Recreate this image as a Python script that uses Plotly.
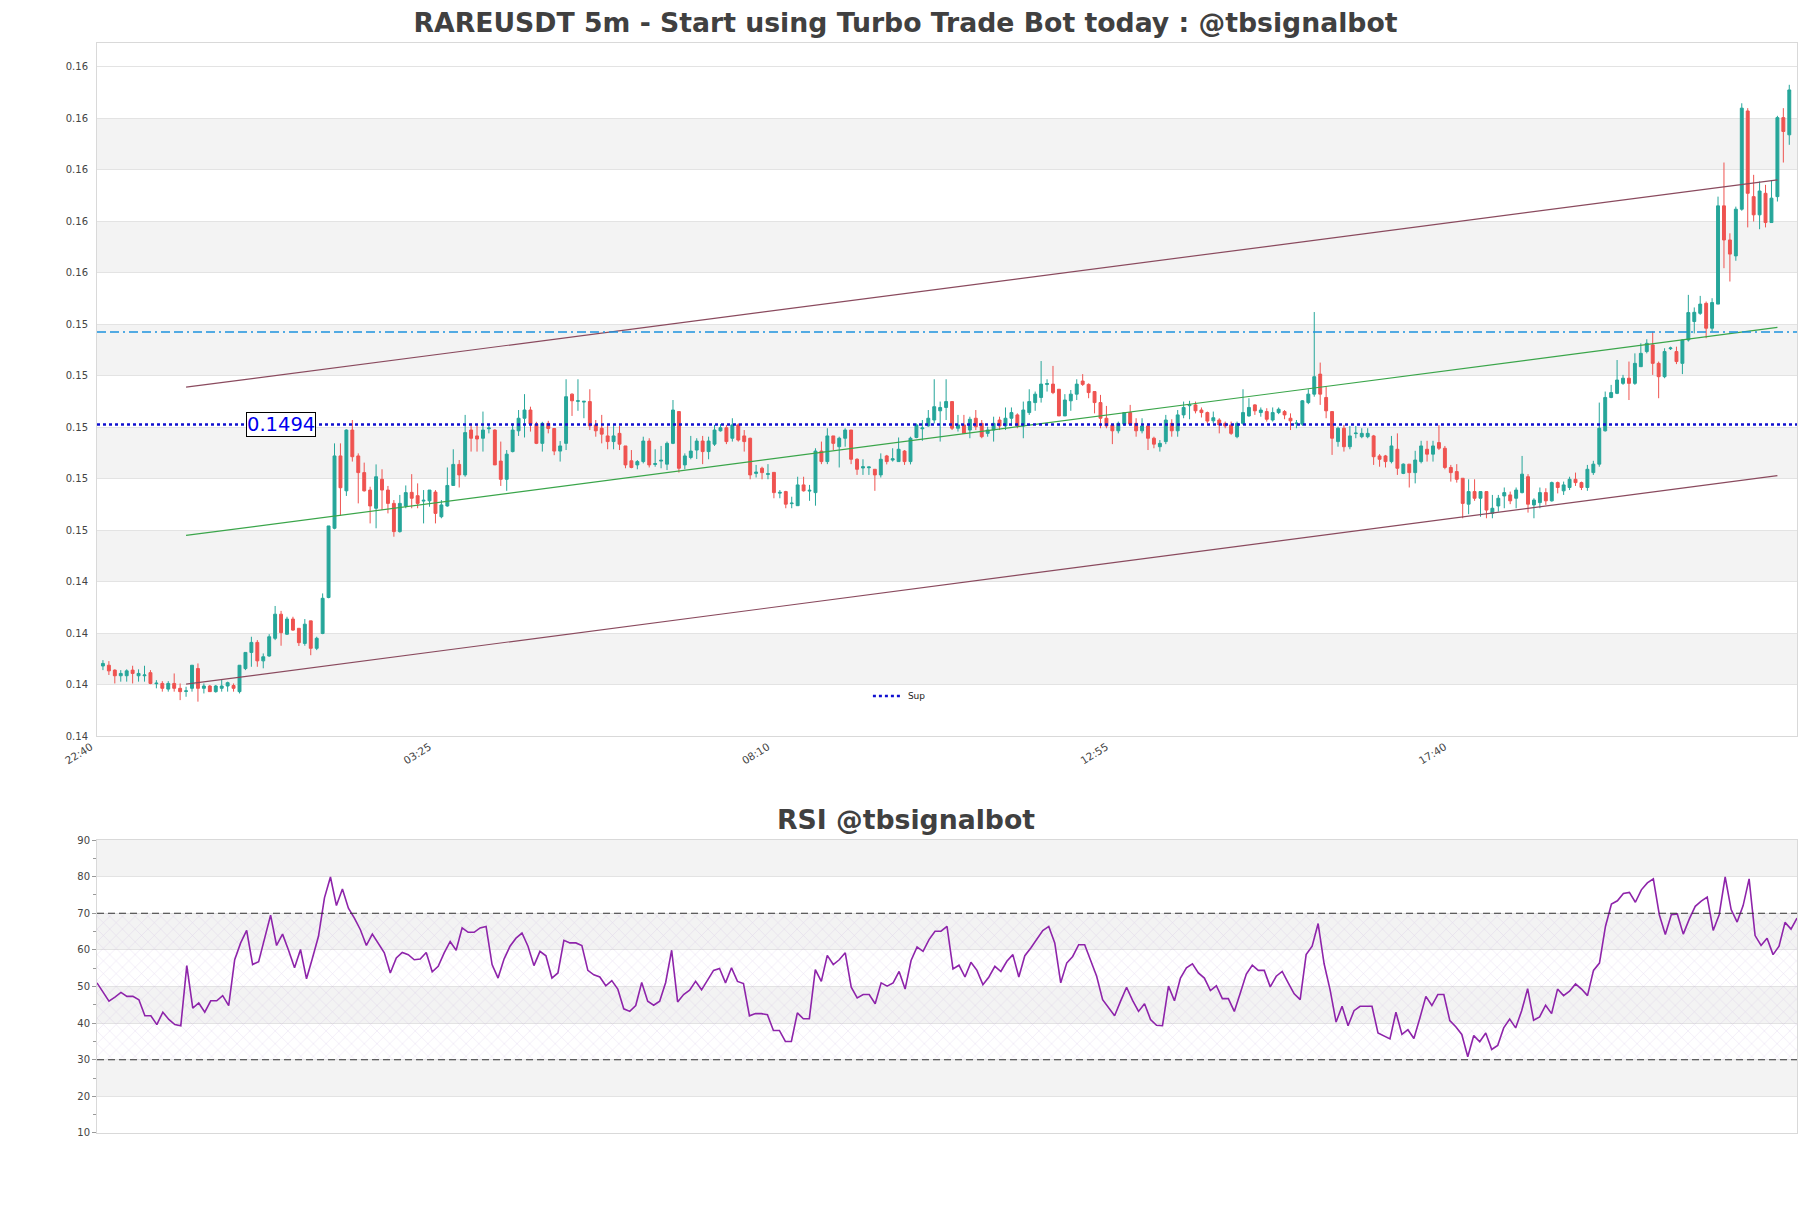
import plotly.graph_objects as go

# ---------------- data ----------------
candle_index = list(range(285))
time_tick_pos = [0, 57, 114, 171, 228]
time_tick_labels = ["22:40", "03:25", "08:10", "12:55", "17:40"]

open_ = [0.13998, 0.14001, 0.13982, 0.13960, 0.13960, 0.13982, 0.13960, 0.13960, 0.13972, 0.13929,
 0.13930, 0.13908, 0.13930, 0.13911, 0.13899, 0.13911, 0.13988, 0.13911, 0.13920, 0.13898,
 0.13911, 0.13920, 0.13922, 0.13898, 0.13988, 0.14051, 0.14090, 0.14018, 0.14037, 0.14106,
 0.14200, 0.14122, 0.14181, 0.14145, 0.14086, 0.14174, 0.14067, 0.14125, 0.14265, 0.14535,
 0.14817, 0.14681, 0.14918, 0.14817, 0.14752, 0.14684, 0.14613, 0.14726, 0.14684, 0.14632,
 0.14522, 0.14622, 0.14675, 0.14662, 0.14641, 0.14642, 0.14676, 0.14580, 0.14622, 0.14702,
 0.14784, 0.14743, 0.14918, 0.14895, 0.14886, 0.14923, 0.14918, 0.14797, 0.14726, 0.14834,
 0.14915, 0.14964, 0.14996, 0.14941, 0.14866, 0.14944, 0.14924, 0.14836, 0.14866, 0.15058,
 0.15030, 0.15027, 0.15029, 0.14938, 0.14925, 0.14895, 0.14873, 0.14905, 0.14856, 0.14798,
 0.14782, 0.14795, 0.14875, 0.14784, 0.14797, 0.14785, 0.14866, 0.14990, 0.14782, 0.14811,
 0.14840, 0.14875, 0.14834, 0.14863, 0.14915, 0.14927, 0.14886, 0.14938, 0.14895, 0.14886,
 0.14749, 0.14769, 0.14745, 0.14753, 0.14672, 0.14678, 0.14631, 0.14623, 0.14704, 0.14680,
 0.14674, 0.14836, 0.14795, 0.14895, 0.14853, 0.14886, 0.14918, 0.14804, 0.14770, 0.14771,
 0.14765, 0.14743, 0.14817, 0.14801, 0.14795, 0.14836, 0.14795, 0.14889, 0.14923, 0.14934,
 0.14957, 0.14993, 0.15006, 0.15029, 0.14925, 0.14938, 0.14918, 0.14964, 0.14944, 0.14905,
 0.14918, 0.14957, 0.14934, 0.14964, 0.14977, 0.14934, 0.14986, 0.15025, 0.15045, 0.15096,
 0.15097, 0.15077, 0.14973, 0.15032, 0.15058, 0.15109, 0.15096, 0.15068, 0.15025, 0.14964,
 0.14938, 0.14915, 0.14941, 0.14986, 0.14944, 0.14915, 0.14934, 0.14886, 0.14853, 0.14873,
 0.14944, 0.14915, 0.14977, 0.15013, 0.15016, 0.14996, 0.14986, 0.14954, 0.14957, 0.14944,
 0.14938, 0.14892, 0.14944, 0.14973, 0.15016, 0.14986, 0.14990, 0.14957, 0.14986, 0.14990,
 0.14964, 0.14943, 0.14941, 0.15025, 0.15058, 0.15136, 0.15045, 0.14990, 0.14873, 0.14925,
 0.14853, 0.14904, 0.14892, 0.14892, 0.14895, 0.14817, 0.14817, 0.14795, 0.14843, 0.14749,
 0.14785, 0.14752, 0.14795, 0.14843, 0.14824, 0.14869, 0.14847, 0.14772, 0.14756, 0.14730,
 0.14629, 0.14678, 0.14652, 0.14678, 0.14593, 0.14622, 0.14661, 0.14665, 0.14652, 0.14674,
 0.14736, 0.14626, 0.14635, 0.14674, 0.14642, 0.14713, 0.14681, 0.14694, 0.14726, 0.14713,
 0.14694, 0.14752, 0.14785, 0.14915, 0.15045, 0.15061, 0.15100, 0.15120, 0.15100, 0.15165,
 0.15224, 0.15250, 0.15178, 0.15126, 0.15235, 0.15224, 0.15178, 0.15269, 0.15341, 0.15373,
 0.15412, 0.15315, 0.15409, 0.15792, 0.15659, 0.15597, 0.15779, 0.16162, 0.15828, 0.15757,
 0.15841, 0.15727, 0.15828, 0.16136, 0.16069]

high = [0.14021, 0.14017, 0.13985, 0.13982, 0.13985, 0.13999, 0.13985, 0.13999, 0.13982, 0.13943,
 0.13939, 0.13939, 0.13969, 0.13930, 0.13917, 0.14001, 0.14008, 0.13930, 0.13924, 0.13924,
 0.13946, 0.13937, 0.13930, 0.14001, 0.14051, 0.14112, 0.14099, 0.14047, 0.14122, 0.14232,
 0.14213, 0.14190, 0.14190, 0.14145, 0.14181, 0.14174, 0.14112, 0.14281, 0.14544, 0.14866,
 0.14866, 0.14921, 0.14957, 0.14827, 0.14791, 0.14697, 0.14784, 0.14765, 0.14700, 0.14645,
 0.14665, 0.14702, 0.14746, 0.14710, 0.14684, 0.14684, 0.14684, 0.14645, 0.14772, 0.14843,
 0.14801, 0.14977, 0.14944, 0.14938, 0.14990, 0.14938, 0.14921, 0.14873, 0.14840, 0.14944,
 0.14996, 0.15058, 0.15009, 0.14950, 0.14950, 0.14954, 0.14924, 0.14875, 0.15116, 0.15061,
 0.15116, 0.15031, 0.15077, 0.14957, 0.14977, 0.14938, 0.14938, 0.14934, 0.14856, 0.14840,
 0.14801, 0.14892, 0.14886, 0.14843, 0.14856, 0.14873, 0.15035, 0.14990, 0.14827, 0.14895,
 0.14886, 0.14895, 0.14892, 0.14938, 0.14941, 0.14938, 0.14964, 0.14944, 0.14918, 0.14888,
 0.14782, 0.14775, 0.14785, 0.14753, 0.14684, 0.14681, 0.14658, 0.14736, 0.14736, 0.14704,
 0.14847, 0.14873, 0.14925, 0.14895, 0.14892, 0.14925, 0.14918, 0.14808, 0.14804, 0.14772,
 0.14765, 0.14827, 0.14821, 0.14847, 0.14889, 0.14840, 0.14892, 0.14944, 0.14957, 0.14996,
 0.15116, 0.15029, 0.15116, 0.15029, 0.14977, 0.14977, 0.14970, 0.14996, 0.14957, 0.14931,
 0.14970, 0.14970, 0.15006, 0.15006, 0.14983, 0.15029, 0.15077, 0.15068, 0.15187, 0.15116,
 0.15168, 0.15077, 0.15058, 0.15074, 0.15116, 0.15136, 0.15100, 0.15068, 0.15055, 0.15012,
 0.14938, 0.14951, 0.14986, 0.15016, 0.14964, 0.14964, 0.14944, 0.14892, 0.14879, 0.14977,
 0.14960, 0.14996, 0.15029, 0.15032, 0.15029, 0.15006, 0.14990, 0.14990, 0.14964, 0.14951,
 0.14951, 0.14951, 0.15077, 0.15042, 0.15019, 0.15006, 0.15003, 0.15006, 0.15006, 0.14996,
 0.14983, 0.14957, 0.15035, 0.15077, 0.15378, 0.15181, 0.15087, 0.14990, 0.14931, 0.14938,
 0.14934, 0.14934, 0.14925, 0.14925, 0.14899, 0.14824, 0.14821, 0.14895, 0.14905, 0.14788,
 0.14785, 0.14837, 0.14876, 0.14876, 0.14876, 0.14937, 0.14856, 0.14782, 0.14785, 0.14730,
 0.14726, 0.14726, 0.14678, 0.14678, 0.14665, 0.14665, 0.14694, 0.14678, 0.14694, 0.14817,
 0.14746, 0.14652, 0.14694, 0.14691, 0.14717, 0.14717, 0.14717, 0.14736, 0.14752, 0.14717,
 0.14782, 0.14798, 0.15025, 0.15068, 0.15094, 0.15191, 0.15133, 0.15185, 0.15217, 0.15256,
 0.15272, 0.15302, 0.15185, 0.15237, 0.15243, 0.15243, 0.15272, 0.15445, 0.15396, 0.15441,
 0.15419, 0.15432, 0.15828, 0.15961, 0.15685, 0.15789, 0.16192, 0.16173, 0.15913, 0.15887,
 0.15874, 0.15893, 0.16143, 0.16173, 0.16264]

low = [0.13982, 0.13963, 0.13930, 0.13937, 0.13937, 0.13930, 0.13937, 0.13937, 0.13927, 0.13911,
 0.13898, 0.13898, 0.13898, 0.13865, 0.13878, 0.13898, 0.13859, 0.13891, 0.13898, 0.13894,
 0.13898, 0.13898, 0.13898, 0.13891, 0.13982, 0.13995, 0.13995, 0.13989, 0.14034, 0.14099,
 0.14077, 0.14119, 0.14135, 0.14076, 0.14077, 0.14040, 0.14060, 0.14122, 0.14262, 0.14531,
 0.14583, 0.14661, 0.14795, 0.14632, 0.14678, 0.14554, 0.14535, 0.14606, 0.14593, 0.14502,
 0.14518, 0.14613, 0.14613, 0.14613, 0.14554, 0.14619, 0.14554, 0.14574, 0.14619, 0.14700,
 0.14694, 0.14736, 0.14834, 0.14834, 0.14834, 0.14905, 0.14782, 0.14700, 0.14681, 0.14831,
 0.14895, 0.14889, 0.14912, 0.14863, 0.14834, 0.14905, 0.14820, 0.14795, 0.14840, 0.14973,
 0.14993, 0.14964, 0.14918, 0.14892, 0.14866, 0.14843, 0.14843, 0.14840, 0.14769, 0.14769,
 0.14765, 0.14788, 0.14772, 0.14775, 0.14769, 0.14762, 0.14863, 0.14752, 0.14765, 0.14804,
 0.14805, 0.14785, 0.14804, 0.14856, 0.14912, 0.14863, 0.14873, 0.14873, 0.14834, 0.14726,
 0.14733, 0.14726, 0.14726, 0.14652, 0.14652, 0.14613, 0.14613, 0.14623, 0.14678, 0.14642,
 0.14623, 0.14785, 0.14785, 0.14840, 0.14772, 0.14853, 0.14785, 0.14743, 0.14743, 0.14743,
 0.14681, 0.14733, 0.14784, 0.14795, 0.14795, 0.14782, 0.14784, 0.14886, 0.14876, 0.14931,
 0.14944, 0.14873, 0.14957, 0.14918, 0.14912, 0.14905, 0.14886, 0.14918, 0.14886, 0.14892,
 0.14873, 0.14918, 0.14918, 0.14934, 0.14925, 0.14886, 0.14977, 0.14993, 0.15025, 0.15068,
 0.15058, 0.14973, 0.14973, 0.14993, 0.15035, 0.15090, 0.15042, 0.14983, 0.14925, 0.14925,
 0.14863, 0.14905, 0.14934, 0.14934, 0.14892, 0.14905, 0.14840, 0.14847, 0.14834, 0.14863,
 0.14892, 0.14892, 0.14964, 0.14960, 0.14983, 0.14967, 0.14944, 0.14944, 0.14905, 0.14925,
 0.14899, 0.14886, 0.14938, 0.14970, 0.14977, 0.14970, 0.14951, 0.14951, 0.14980, 0.14960,
 0.14918, 0.14925, 0.14934, 0.15019, 0.15048, 0.15016, 0.14964, 0.14821, 0.14853, 0.14834,
 0.14843, 0.14886, 0.14886, 0.14886, 0.14782, 0.14775, 0.14772, 0.14788, 0.14743, 0.14746,
 0.14694, 0.14710, 0.14788, 0.14795, 0.14795, 0.14840, 0.14765, 0.14717, 0.14713, 0.14574,
 0.14590, 0.14642, 0.14580, 0.14574, 0.14574, 0.14600, 0.14613, 0.14629, 0.14613, 0.14671,
 0.14596, 0.14574, 0.14613, 0.14626, 0.14639, 0.14671, 0.14665, 0.14684, 0.14700, 0.14684,
 0.14681, 0.14743, 0.14775, 0.14912, 0.15042, 0.15058, 0.15094, 0.15035, 0.15094, 0.15165,
 0.15217, 0.15133, 0.15042, 0.15120, 0.15230, 0.15175, 0.15136, 0.15263, 0.15295, 0.15367,
 0.15276, 0.15302, 0.15409, 0.15549, 0.15497, 0.15578, 0.15773, 0.15708, 0.15731, 0.15701,
 0.15708, 0.15727, 0.15809, 0.15961, 0.16030]

close = [0.14008, 0.13979, 0.13960, 0.13969, 0.13979, 0.13969, 0.13969, 0.13963, 0.13930, 0.13931,
 0.13911, 0.13930, 0.13911, 0.13898, 0.13901, 0.14001, 0.13911, 0.13920, 0.13898, 0.13920,
 0.13920, 0.13933, 0.13911, 0.14001, 0.14051, 0.14090, 0.14018, 0.14034, 0.14112, 0.14200,
 0.14128, 0.14181, 0.14138, 0.14089, 0.14161, 0.14067, 0.14106, 0.14262, 0.14544, 0.14817,
 0.14693, 0.14918, 0.14814, 0.14752, 0.14681, 0.14622, 0.14736, 0.14684, 0.14632, 0.14522,
 0.14632, 0.14674, 0.14652, 0.14632, 0.14644, 0.14684, 0.14593, 0.14626, 0.14702, 0.14784,
 0.14743, 0.14908, 0.14886, 0.14883, 0.14918, 0.14926, 0.14782, 0.14726, 0.14824, 0.14918,
 0.14964, 0.14996, 0.14941, 0.14866, 0.14944, 0.14924, 0.14836, 0.14856, 0.15048, 0.15032,
 0.15032, 0.15030, 0.14934, 0.14915, 0.14902, 0.14873, 0.14895, 0.14863, 0.14782, 0.14772,
 0.14795, 0.14875, 0.14782, 0.14787, 0.14800, 0.14866, 0.14996, 0.14769, 0.14817, 0.14836,
 0.14875, 0.14834, 0.14875, 0.14918, 0.14927, 0.14873, 0.14938, 0.14879, 0.14873, 0.14743,
 0.14754, 0.14752, 0.14748, 0.14674, 0.14675, 0.14629, 0.14633, 0.14704, 0.14681, 0.14683,
 0.14836, 0.14795, 0.14895, 0.14866, 0.14886, 0.14918, 0.14804, 0.14765, 0.14775, 0.14774,
 0.14743, 0.14804, 0.14795, 0.14806, 0.14843, 0.14795, 0.14886, 0.14938, 0.14926, 0.14964,
 0.15009, 0.15006, 0.15029, 0.14925, 0.14938, 0.14905, 0.14960, 0.14931, 0.14892, 0.14918,
 0.14944, 0.14934, 0.14964, 0.14986, 0.14934, 0.14996, 0.15029, 0.15058, 0.15097, 0.15099,
 0.15064, 0.14973, 0.15035, 0.15058, 0.15097, 0.15096, 0.15064, 0.15025, 0.14964, 0.14934,
 0.14915, 0.14944, 0.14986, 0.14941, 0.14915, 0.14934, 0.14886, 0.14863, 0.14866, 0.14957,
 0.14915, 0.14977, 0.15006, 0.15017, 0.14993, 0.14986, 0.14953, 0.14966, 0.14938, 0.14934,
 0.14905, 0.14944, 0.14986, 0.15006, 0.14993, 0.14996, 0.14960, 0.14986, 0.14999, 0.14977,
 0.14954, 0.14945, 0.15032, 0.15058, 0.15126, 0.15058, 0.14993, 0.14886, 0.14925, 0.14853,
 0.14895, 0.14906, 0.14905, 0.14905, 0.14814, 0.14804, 0.14795, 0.14856, 0.14769, 0.14785,
 0.14752, 0.14801, 0.14856, 0.14824, 0.14856, 0.14847, 0.14772, 0.14752, 0.14726, 0.14632,
 0.14678, 0.14652, 0.14678, 0.14606, 0.14613, 0.14652, 0.14674, 0.14642, 0.14684, 0.14746,
 0.14629, 0.14645, 0.14674, 0.14642, 0.14713, 0.14694, 0.14704, 0.14726, 0.14713, 0.14694,
 0.14765, 0.14785, 0.14925, 0.15045, 0.15064, 0.15113, 0.15120, 0.15100, 0.15178, 0.15217,
 0.15256, 0.15178, 0.15126, 0.15224, 0.15238, 0.15185, 0.15269, 0.15376, 0.15377, 0.15409,
 0.15315, 0.15415, 0.15792, 0.15659, 0.15604, 0.15779, 0.16173, 0.15841, 0.15757, 0.15850,
 0.15727, 0.15822, 0.16136, 0.16082, 0.16244]

rsi = [51.0, 48.3, 46.0, 47.1, 48.4, 47.3, 47.3, 46.4, 42.0, 42.0,
 39.6, 43.0, 41.0, 39.6, 39.3, 55.7, 44.1, 45.5, 43.0, 46.1,
 46.1, 47.5, 44.8, 57.3, 61.9, 65.3, 56.0, 56.8, 62.8, 69.5,
 61.2, 64.3, 59.9, 55.1, 60.1, 52.1, 57.8, 63.7, 74.2, 79.9,
 72.1, 76.6, 71.4, 68.7, 65.5, 61.2, 64.3, 61.7, 59.2, 53.7,
 57.8, 59.3, 58.7, 57.3, 57.5, 59.3, 54.0, 55.5, 59.2, 62.3,
 59.9, 66.0, 64.8, 64.8, 66.0, 66.4, 56.0, 52.3, 57.5, 61.0,
 63.2, 64.6, 61.0, 55.7, 59.6, 58.4, 52.3, 53.7, 62.6, 61.9,
 61.9, 61.2, 54.4, 53.2, 52.6, 50.2, 51.6, 49.3, 43.9, 43.2,
 44.8, 51.1, 46.0, 44.9, 46.0, 51.1, 59.9, 45.8, 47.8, 49.0,
 51.4, 49.1, 51.7, 54.4, 54.9, 51.0, 55.1, 51.4, 50.8, 42.0,
 42.6, 42.6, 42.3, 38.0, 38.0, 35.0, 35.0, 42.8, 41.2, 41.2,
 54.6, 51.4, 58.5, 56.0, 57.3, 59.2, 49.8, 46.9, 47.8, 47.8,
 45.3, 51.0, 50.1, 51.0, 54.1, 49.3, 57.1, 60.8, 59.6, 62.8,
 65.1, 65.1, 66.4, 54.8, 55.8, 52.6, 56.6, 54.4, 50.5, 52.6,
 55.5, 54.1, 56.9, 58.7, 52.6, 58.4, 60.5, 62.8, 65.3, 66.4,
 61.9, 51.0, 56.4, 58.2, 61.4, 61.4, 57.3, 52.8, 46.4, 44.1,
 42.0, 46.0, 49.8, 46.2, 43.2, 45.3, 41.0, 39.4, 39.3, 50.1,
 46.1, 52.3, 55.1, 56.2, 53.7, 52.3, 48.9, 50.2, 46.7, 46.7,
 43.2, 48.2, 53.4, 55.8, 54.4, 54.4, 49.9, 52.8, 54.1, 51.0,
 48.0, 46.4, 58.7, 61.0, 67.2, 56.2, 49.1, 40.3, 44.6, 39.3,
 43.4, 44.6, 44.6, 44.6, 37.3, 36.4, 35.7, 43.0, 36.9, 38.2,
 35.8, 41.4, 47.3, 44.8, 47.8, 47.8, 40.7, 39.0, 36.9, 30.8,
 36.6, 34.9, 37.3, 32.8, 33.9, 38.7, 41.1, 38.7, 43.4, 49.4,
 40.8, 41.7, 44.9, 42.6, 49.3, 47.5, 48.7, 50.7, 49.3, 47.5,
 54.4, 56.4, 66.4, 72.5, 73.4, 75.4, 75.7, 73.0, 76.4, 78.3,
 79.4, 69.6, 64.2, 69.6, 69.8, 64.3, 68.4, 71.9, 73.3, 74.4,
 65.3, 69.6, 79.9, 71.0, 67.6, 72.1, 79.4, 63.9, 61.2, 63.2,
 58.7, 61.0, 67.5, 65.7, 68.7]

price_ticks = [0.13725, 0.13926, 0.14126, 0.14327, 0.14528, 0.14728, 0.14929,
               0.15130, 0.15330, 0.15531, 0.15732, 0.15932, 0.16133, 0.16334]
price_range = [0.13725, 0.16427]
support_level = 0.1494
support_label = "0.1494"
resistance_level = 0.1530
channel_x = [14, 282]
channel_upper = [0.15085, 0.15893]
channel_mid = [0.14507, 0.15318]
channel_lower = [0.13927, 0.14740]
rsi_ticks = [10, 20, 30, 40, 50, 60, 70, 80, 90]
rsi_bounds = [30, 70]

# ---------------- style ----------------
FONT = "DejaVu Sans"
BAND = "#f3f3f3"
GRID = "#e3e3e3"
BORDER = "#d9d9d9"
UP = "#26a69a"
DOWN = "#ef5350"

fig = go.Figure()

fig.add_trace(go.Candlestick(
    x=candle_index, open=open_, high=high, low=low, close=close,
    increasing=dict(line=dict(color=UP, width=1), fillcolor=UP),
    decreasing=dict(line=dict(color=DOWN, width=1), fillcolor=DOWN),
    whiskerwidth=0, showlegend=False, xaxis="x", yaxis="y"))

for ys, col in [(channel_upper, "#8a4a5e"), (channel_lower, "#8a4a5e"), (channel_mid, "#3aa54a")]:
    fig.add_trace(go.Scatter(x=channel_x, y=ys, mode="lines", line=dict(color=col, width=1.2),
                             showlegend=False, hoverinfo="skip", xaxis="x", yaxis="y"))

fig.add_trace(go.Scatter(x=[-1, 285.3], y=[resistance_level, resistance_level], mode="lines",
                         line=dict(color="#1d92de", width=1.4, dash="9px,4px,9px,4px,2px,4px"),
                         showlegend=False, hoverinfo="skip", xaxis="x", yaxis="y"))

fig.add_trace(go.Scatter(x=[-1, 285.3], y=[support_level, support_level], mode="lines",
                         name="Sup", line=dict(color="#1010d0", width=2.5, dash="dot"),
                         showlegend=True, xaxis="x", yaxis="y"))

# RSI hatch zone
fig.add_trace(go.Scatter(x=[0, 284, 284, 0, 0], y=[rsi_bounds[0], rsi_bounds[0], rsi_bounds[1], rsi_bounds[1], rsi_bounds[0]],
                         mode="lines", fill="toself", fillcolor="rgba(0,0,0,0)",
                         fillpattern=dict(shape="x", fgcolor="rgba(170,130,205,0.6)", bgcolor="rgba(0,0,0,0)",
                                          size=9, solidity=0.1),
                         line=dict(width=0), showlegend=False, hoverinfo="skip", xaxis="x2", yaxis="y2"))

fig.add_trace(go.Scatter(x=candle_index, y=rsi, mode="lines", line=dict(color="#8e24aa", width=1.6),
                         showlegend=False, xaxis="x2", yaxis="y2"))

shapes = []
for i in (1, 3, 5, 7, 9, 11):
    shapes.append(dict(type="rect", xref="x domain", yref="y", x0=0, x1=1,
                       y0=price_ticks[i], y1=price_ticks[i + 1], fillcolor=BAND, line=dict(width=0), layer="below"))
for lo, hi in [(20, 30), (40, 50), (60, 70), (80, 90)]:
    shapes.append(dict(type="rect", xref="x2 domain", yref="y2", x0=0, x1=1,
                       y0=lo, y1=hi, fillcolor=BAND, line=dict(width=0), layer="below"))
for b in rsi_bounds:
    shapes.append(dict(type="line", xref="x2 domain", yref="y2", x0=0, x1=1, y0=b, y1=b,
                       line=dict(color="#333333", width=1.2, dash="7px,4px"), layer="above"))

main_dom = [0.3642, 1.0]
rsi_dom = [0.0, 0.2688]

fig.update_layout(
    width=1811, height=1208, autosize=False,
    margin=dict(l=97, r=14, t=43, b=75),
    paper_bgcolor="white", plot_bgcolor="white",
    font=dict(family=FONT, size=10, color="#444444"),
    title=dict(text="<b>RAREUSDT 5m - Start using Turbo Trade Bot today : @tbsignalbot</b>",
               x=0.5, xref="container", xanchor="center", y=1 - 23 / 1208, yref="container", yanchor="middle",
               font=dict(family=FONT, size=26.7, color="#404040")),
    shapes=shapes,
    showlegend=True,
    legend=dict(x=0.472, y=0.401, xanchor="center", yanchor="middle", bgcolor="rgba(0,0,0,0)",
                font=dict(size=9, color="#222222"), itemwidth=30),
    xaxis=dict(domain=[0, 1], range=[-1, 285.3], anchor="y", tickmode="array",
               tickvals=time_tick_pos, ticktext=time_tick_labels, tickangle=-32,
               tickfont=dict(size=10.5, color="#444444"), showgrid=False, zeroline=False,
               showline=True, mirror=True, linecolor=BORDER, linewidth=1,
               rangeslider=dict(visible=False), ticks="", ticklabelshift=-12, ticklabelstandoff=0),
    yaxis=dict(domain=main_dom, range=price_range, anchor="x", tickmode="array", tickvals=price_ticks,
               tickformat=".2f", tickfont=dict(size=10, color="#444444"), showgrid=True, gridcolor=GRID,
               gridwidth=1, zeroline=False, showline=True, mirror=True, linecolor=BORDER, linewidth=1,
               ticks="", ticklabelstandoff=6),
    xaxis2=dict(domain=[0, 1], range=[0, 284], anchor="y2", showticklabels=False, showgrid=False,
                zeroline=False, showline=True, mirror=True, linecolor=BORDER, linewidth=1, ticks=""),
    yaxis2=dict(domain=rsi_dom, range=[10, 90], anchor="x2", tickmode="array", tickvals=rsi_ticks,
                tickfont=dict(size=10, color="#444444"), showgrid=True, gridcolor=GRID, zeroline=False,
                showline=True, mirror=True, linecolor=BORDER, linewidth=1,
                ticks="outside", ticklen=4, tickcolor="#999999",
                minor=dict(ticks="outside", ticklen=3, dtick=5, tickcolor="#999999", showgrid=False)),
    annotations=[
        dict(text="<b>RSI @tbsignalbot</b>", xref="paper", yref="paper", x=0.4756, y=0.2872,
             xanchor="center", yanchor="middle", showarrow=False,
             font=dict(family=FONT, size=26.7, color="#404040")),
        dict(text=support_label, xref="x", yref="y", x=30, y=support_level, showarrow=False,
             xanchor="center", yanchor="middle", font=dict(family=FONT, size=19.5, color="#0000ee"),
             bgcolor="white", bordercolor="black", borderwidth=1, borderpad=0),
    ],
)

fig.write_html("out.html")
